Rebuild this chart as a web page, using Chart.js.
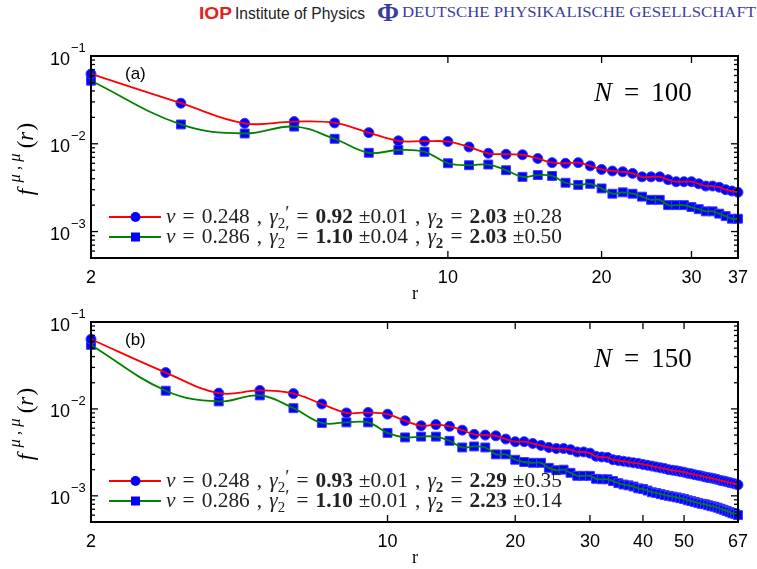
<!DOCTYPE html>
<html lang="en">
<head>
<meta charset="UTF-8">
<title>f(r) for N = 100 and N = 150</title>
<script src="https://cdn.jsdelivr.net/npm/chart.js"></script>
<style>
  body { margin: 0; background: #fff; width: 757px; height: 569px; position: relative; overflow: hidden; }
  canvas { position: absolute; left: 0; }
  .hdr { position: absolute; top: 4px; white-space: nowrap; line-height: 18px; transform-origin: 0 50%; }
</style>
</head>
<body>

<span class="hdr" id="iop" style="left:199px;font:bold 17px 'Liberation Sans';color:#e2231a">IOP</span>
<span class="hdr" id="iopName" style="left:235px;font:17px 'Liberation Sans';color:#222">Institute of Physics</span>
<span class="hdr" id="phi" style="left:377px;top:0;font:bold 26px 'Liberation Serif';color:#3c3c9c;line-height:26px">Φ</span>
<span class="hdr" id="dpg" style="left:402px;font:15px 'Liberation Serif';color:#3c3c9c">DEUTSCHE PHYSIKALISCHE GESELLSCHAFT</span>

<canvas id="chartA" width="757" height="270" style="top:30px"></canvas>
<canvas id="chartB" width="757" height="269" style="top:300px"></canvas>

<script>
  // panel (a): N = 100
  const rTop = [2, 3, 4, 5, 6, 7, 8, 9, 10, 11, 12, 13, 14, 15, 16, 17, 18, 19, 20,
    21, 22, 23, 24, 25, 26, 27, 28, 29, 30, 31, 32, 33, 34, 35, 36, 37];
  const fTop248 = [0.0624, 0.0290, 0.0171, 0.0179, 0.0173, 0.0134, 0.0108, 0.0107, 0.0106, 0.0092,
    0.0078, 0.0076, 0.0075, 0.0068, 0.0061, 0.0060, 0.0061, 0.0056, 0.0051, 0.0049,
    0.0048, 0.0046, 0.0042, 0.0042, 0.0042, 0.0039, 0.0037, 0.0037, 0.0037, 0.0035,
    0.0033, 0.0033, 0.0032, 0.0030, 0.0029, 0.0028];
  const fTop286 = [0.0523, 0.0166, 0.0131, 0.0157, 0.0114, 0.0079, 0.0085, 0.0081, 0.0060, 0.0057,
    0.0058, 0.0050, 0.0042, 0.0044, 0.0043, 0.0036, 0.0034, 0.0035, 0.0031, 0.0027,
    0.0028, 0.0027, 0.0025, 0.0023, 0.0023, 0.0020, 0.0020, 0.0020, 0.0019, 0.0018,
    0.0017, 0.0017, 0.0016, 0.0015, 0.0014, 0.0014];

  // panel (b): N = 150
  const rBottom = [2, 3, 4, 5, 6, 7, 8, 9, 10, 11, 12, 13, 14, 15, 16, 17, 18, 19, 20,
    21, 22, 23, 24, 25, 26, 27, 28, 29, 30, 31, 32, 33, 34, 35, 36, 37, 38, 39, 40,
    41, 42, 43, 44, 45, 46, 47, 48, 49, 50, 51, 52, 53, 54, 55, 56, 57, 58, 59, 60,
    61, 62, 63, 64, 65, 66, 67];
  const fBottom248 = [0.0633, 0.0262, 0.0152, 0.0163, 0.0150, 0.0114, 0.0090, 0.0091, 0.0087, 0.0073,
    0.0064, 0.0066, 0.0063, 0.0057, 0.0051, 0.0050, 0.0049, 0.0045, 0.0042, 0.0042,
    0.0040, 0.0038, 0.0036, 0.0035, 0.0035, 0.0034, 0.0032, 0.0032, 0.0031, 0.00285,
    0.0028, 0.00277, 0.0026, 0.00255, 0.0025, 0.00245, 0.0024, 0.00236, 0.0023, 0.00225,
    0.0022, 0.00215, 0.0021, 0.00206, 0.0020, 0.00197, 0.00194, 0.0019, 0.00187, 0.00182,
    0.00179, 0.00175, 0.00172, 0.00169, 0.00165, 0.00162, 0.0016, 0.00157, 0.00154, 0.0015,
    0.00148, 0.00145, 0.00142, 0.0014, 0.00137, 0.00134];
  const fBottom286 = [0.0545, 0.0162, 0.0122, 0.0143, 0.0102, 0.0069, 0.0070, 0.0070, 0.0053, 0.0047,
    0.0048, 0.0048, 0.0043, 0.0036, 0.0037, 0.0036, 0.0030, 0.0030, 0.0026, 0.00245,
    0.0024, 0.0024, 0.0021, 0.00197, 0.0020, 0.00184, 0.0017, 0.0017, 0.0017, 0.00157,
    0.00155, 0.00155, 0.00148, 0.0014, 0.00135, 0.00132, 0.00128, 0.00122, 0.0012, 0.00115,
    0.0011, 0.00108, 0.00105, 0.00102, 0.0010, 0.00098, 0.00096, 0.00094, 0.00092, 0.00089,
    0.00087, 0.00085, 0.00083, 0.00081, 0.0008, 0.00078, 0.00076, 0.00075, 0.00073, 0.00071,
    0.00069, 0.00067, 0.00065, 0.00063, 0.00062, 0.0006];

  const xTicksTop = [2, 10, 20, 30, 37];
  const xTicksBottom = [2, 10, 20, 30, 40, 50, 67];
  const yDecades = [0.001, 0.01, 0.1];

  // legend numbers: nu, gamma2', error, gamma2, error
  const nuValues = ['0.248', '0.286'];
  const gammaPrimeTop = ['0.92', '1.10'], gammaPrimeErrTop = ['0.01', '0.04'];
  const gammaTop = ['2.03', '2.03'], gammaErrTop = ['0.28', '0.50'];
  const gammaPrimeBottom = ['0.93', '1.10'], gammaPrimeErrBottom = ['0.01', '0.01'];
  const gammaBottom = ['2.29', '2.23'], gammaErrBottom = ['0.35', '0.14'];

  // squeeze the header words to the width they take in the picture
  [['iop', 33], ['iopName', 130], ['phi', 22], ['dpg', 354]].forEach(([id, w]) => {
    const el = document.getElementById(id);
    el.style.transform = 'scaleX(' + (w / el.getBoundingClientRect().width) + ')';
  });

  const SERIF = "'Liberation Serif'";
  const SANS = "'Liberation Sans'";

  function pts(r, f) {
    return r.map((v, i) => ({ x: v, y: f[i] }));
  }

  // TeX-like spacing: gaps are in px at the base size
  function mathRow(nu, gp, gpErr, g, gErr) {
    return [
      { t: 'ν', st: 'italic', gap: 6 }, { t: '=', gap: 6 }, { t: nu, gap: 6 }, { t: ',', gap: 6 },
      { t: 'γ', st: 'italic' }, { t: '2', sc: 0.7, dy: 4 }, { t: '′', sc: 0.9, dy: -3, gap: 6 },
      { t: '=', gap: 6 }, { t: gp, st: 'bold', gap: 5 }, { t: '±' + gpErr, gap: 6 }, { t: ',', gap: 6 },
      { t: 'γ', st: 'italic' }, { t: '2', sc: 0.7, dy: 4, st: 'bold', gap: 6 },
      { t: '=', gap: 6 }, { t: g, st: 'bold', gap: 5 }, { t: '±' + gErr }
    ];
  }

  function segsWidth(ctx, segs, size, family) {
    let w = 0;
    segs.forEach(s => {
      ctx.font = (s.st || '') + ' ' + size * (s.sc || 1) + 'px ' + (s.fam || family);
      w += ctx.measureText(s.t).width + (s.gap || 0) * size / 18;
    });
    return w;
  }

  // draws a run of text pieces, returns the end x
  function drawSegs(ctx, x, y, segs, size, family) {
    segs.forEach(s => {
      const sz = size * (s.sc || 1);
      ctx.font = (s.st || '') + ' ' + sz + 'px ' + (s.fam || family);
      ctx.fillText(s.t, x, y + (s.dy || 0) * size / 18);
      x += ctx.measureText(s.t).width + (s.gap || 0) * size / 18;
    });
    return x;
  }

  function decor(cfg) {
    return {
      id: 'decor',
      afterDraw(chart) {
        const { ctx, chartArea: a } = chart;
        const x = chart.scales.x, y = chart.scales.y;
        const line = (x1, y1, x2, y2) => { ctx.beginPath(); ctx.moveTo(x1, y1); ctx.lineTo(x2, y2); ctx.stroke(); };
        ctx.save();
        ctx.strokeStyle = '#000';
        ctx.fillStyle = '#000';

        // inward ticks
        ctx.lineWidth = 1.3;
        cfg.xTicks.forEach(v => {
          const px = x.getPixelForValue(v);
          line(px, a.bottom, px, a.bottom - 7);
          line(px, a.top, px, a.top + 7);
        });
        for (let e = -4; e <= -1; e++) {
          for (let m = 1; m <= 9; m++) {
            const v = m * Math.pow(10, e);
            if (v < y.min * 0.999 || v > y.max * 1.001) continue;
            const py = y.getPixelForValue(v), len = m === 1 ? 7 : 4;
            line(a.left, py, a.left + len, py);
            line(a.right, py, a.right - len, py);
          }
        }
        ctx.lineWidth = 2;
        ctx.strokeRect(a.left, a.top, a.right - a.left, a.bottom - a.top);

        // y tick labels 10^-n
        ctx.textBaseline = 'alphabetic';
        yDecades.forEach(v => {
          const py = y.getPixelForValue(v);
          const ex = Math.round(Math.log10(v));
          ctx.font = '18px ' + SANS;
          ctx.textAlign = 'right';
          ctx.fillText('10', 70, py + 8.5);
          ctx.font = '13px ' + SANS;
          ctx.textAlign = 'left';
          ctx.fillText('−' + (-ex), 71, py - 4);
        });

        // y axis title, rotated
        ctx.save();
        ctx.translate(33, (a.top + a.bottom) / 2 + 2);
        ctx.rotate(-Math.PI / 2);
        ctx.textAlign = 'left';
        const ySegs = [
          { t: 'f', st: 'italic', gap: 5 }, { t: 'μ , μ', st: 'italic', sc: 0.72, dy: -10, gap: 4 },
          { t: '(' }, { t: 'r', st: 'italic', gap: 1 }, { t: ')' }
        ];
        const yw = segsWidth(ctx, ySegs, 23, SERIF);
        drawSegs(ctx, -yw / 2, 0, ySegs, 23, SERIF);
        ctx.restore();

        // x axis title
        ctx.textAlign = 'center';
        ctx.font = '18px ' + SERIF;
        ctx.fillText('r', 415, cfg.rY);

        // panel tag and N text
        ctx.textAlign = 'left';
        ctx.font = '17px ' + SANS;
        ctx.fillText(cfg.tag, 125, a.top + 23);
        let nx = drawSegs(ctx, 594, a.top + 45, [{ t: 'N', st: 'italic', gap: 8 }], 27, SERIF);
        drawSegs(ctx, nx, a.top + 45, [{ t: '=', gap: 8 }, { t: cfg.nText }], 27, SERIF);

        // legend inside the axes; text sized so the first row spans the width it has in the picture
        const base = segsWidth(ctx, cfg.legend[0].segs, 18, SERIF);
        const size = 18 * 396 / base;
        cfg.legend.forEach((row, i) => {
          const cy = a.bottom - 41 + i * 20;
          ctx.strokeStyle = row.color;
          ctx.lineWidth = 1.8;
          line(109, cy, 161, cy);
          ctx.fillStyle = '#0000ff';
          if (row.marker === 'circle') {
            ctx.beginPath(); ctx.arc(135.5, cy, 5, 0, Math.PI * 2); ctx.fill();
          } else {
            ctx.fillRect(131, cy - 4.5, 9, 9);
          }
          ctx.fillStyle = '#222';
          drawSegs(ctx, 166, cy + 6, row.segs, size, SERIF);
        });
        ctx.restore();
      }
    };
  }

  function makeChart(id, r, f248, f286, xMax, xTicks, padTop, xHeight, cfg) {
    return new Chart(document.getElementById(id), {
      type: 'line',
      data: {
        datasets: [
          { label: 'fit nu=0.248', data: pts(r, f248), borderColor: '#ff0000', borderWidth: 1.8,
            pointRadius: 0, tension: 0.4, order: 0, clip: false },
          { label: 'fit nu=0.286', data: pts(r, f286), borderColor: '#008000', borderWidth: 1.8,
            pointRadius: 0, tension: 0.4, order: 0, clip: false },
          { label: 'nu=0.248', data: pts(r, f248), showLine: false, pointStyle: 'circle', pointRadius: 5,
            pointBackgroundColor: '#0000ff', pointBorderColor: '#3a3aff', pointBorderWidth: 1, order: 1, clip: false },
          { label: 'nu=0.286', data: pts(r, f286), showLine: false, pointStyle: 'rect', pointRadius: 6.3,
            pointBackgroundColor: '#0000ff', pointBorderColor: '#3a3aff', pointBorderWidth: 1, order: 1, clip: false }
        ]
      },
      options: {
        responsive: false,
        animation: false,
        devicePixelRatio: 1,
        layout: { padding: { left: 91, right: 14, top: padTop, bottom: 0 } },
        plugins: { legend: { display: false }, tooltip: { enabled: false } },
        scales: {
          x: {
            type: 'logarithmic', min: 2, max: xMax,
            grid: { display: false, drawTicks: false },
            border: { display: false },
            afterBuildTicks: s => { s.ticks = xTicks.map(v => ({ value: v })); },
            afterFit: s => { s.height = xHeight; },
            ticks: { autoSkip: false, maxRotation: 0, minRotation: 0, padding: 9, color: '#000',
              font: { family: 'Liberation Sans', size: 18 }, callback: v => String(v) }
          },
          y: { type: 'logarithmic', min: 5e-4, max: 0.1, display: false }
        }
      },
      plugins: [decor(cfg)]
    });
  }

  makeChart('chartA', rTop, fTop248, fTop286, 37, xTicksTop, 26, 42, {
    xTicks: xTicksTop, tag: '(a)', nText: '100', rY: 269,
    legend: [
      { color: '#ff0000', marker: 'circle', segs: mathRow(nuValues[0], gammaPrimeTop[0], gammaPrimeErrTop[0], gammaTop[0], gammaErrTop[0]) },
      { color: '#008000', marker: 'rect', segs: mathRow(nuValues[1], gammaPrimeTop[1], gammaPrimeErrTop[1], gammaTop[1], gammaErrTop[1]) }
    ]
  });

  makeChart('chartB', rBottom, fBottom248, fBottom286, 67, xTicksBottom, 22, 47, {
    xTicks: xTicksBottom, tag: '(b)', nText: '150', rY: 263,
    legend: [
      { color: '#ff0000', marker: 'circle', segs: mathRow(nuValues[0], gammaPrimeBottom[0], gammaPrimeErrBottom[0], gammaBottom[0], gammaErrBottom[0]) },
      { color: '#008000', marker: 'rect', segs: mathRow(nuValues[1], gammaPrimeBottom[1], gammaPrimeErrBottom[1], gammaBottom[1], gammaErrBottom[1]) }
    ]
  });
</script>

</body>
</html>
